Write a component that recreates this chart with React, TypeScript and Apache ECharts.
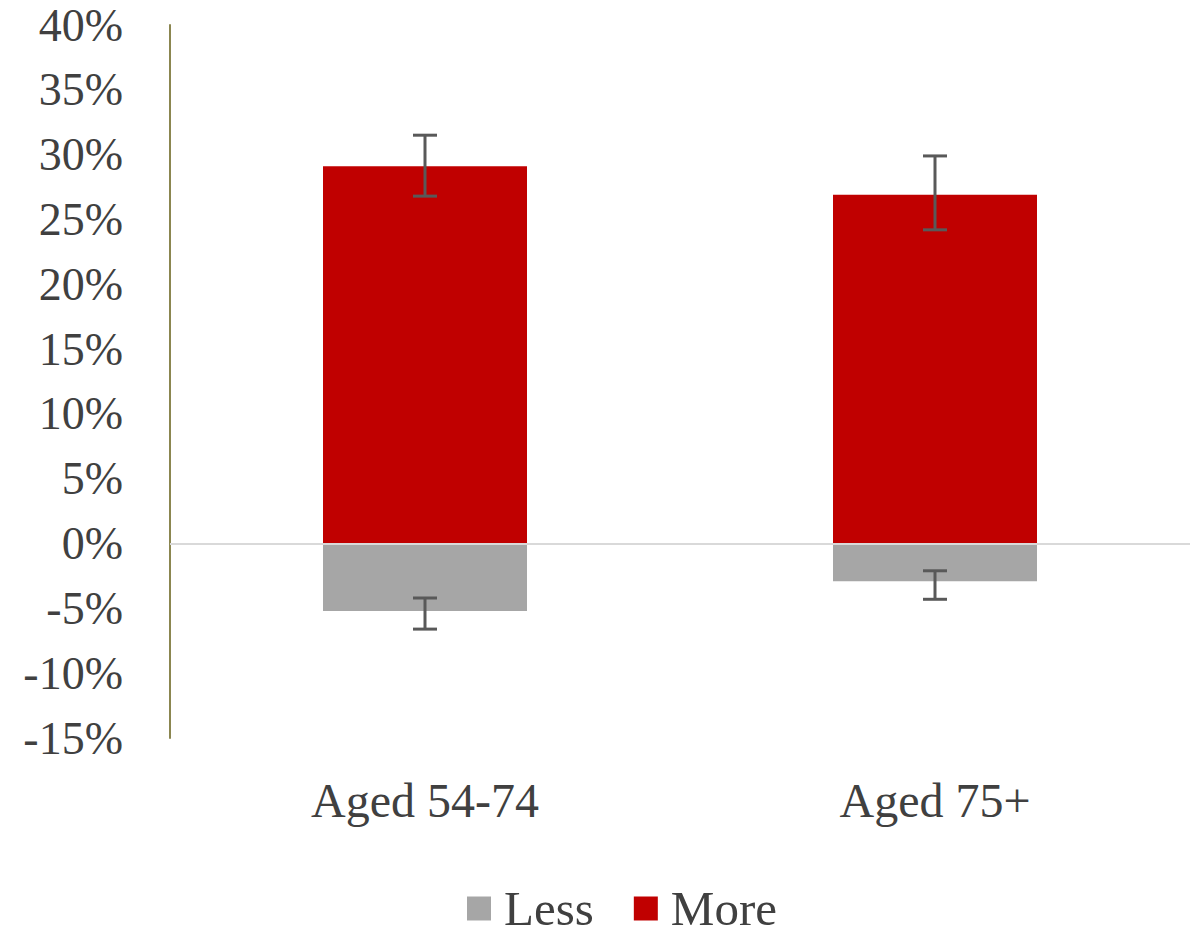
import React, { useEffect, useRef } from "react";
import * as echarts from "echarts";

const categories = ["Aged 54-74", "Aged 75+"];
const lessValues = [-5.2, -2.9];
const moreValues = [29.1, 26.9];
const lessErrLow = [-6.6, -4.3];
const lessErrHigh = [-4.2, -2.1];
const moreErrLow = [26.8, 24.2];
const moreErrHigh = [31.5, 29.9];
const yTicks = [-15, 40, 5];

const FONT = "'Liberation Serif', 'Times New Roman', serif";
const TEXT = "#404040";

export default function App() {
  const ref = useRef<HTMLDivElement>(null);
  useEffect(() => {
    if (!ref.current) return;
    const chart = echarts.init(ref.current, undefined, { renderer: "svg" });
    const errData: number[][] = [];
    categories.forEach((_, i) => {
      errData.push([i, lessErrLow[i], lessErrHigh[i]]);
      errData.push([i, moreErrLow[i], moreErrHigh[i]]);
    });
    chart.setOption({
      animation: false,
      backgroundColor: "#ffffff",
      grid: { left: 170, right: 10, top: 25, bottom: 207, containLabel: false },
      legend: {
        data: ["Less", "More"],
        left: 462,
        top: 879,
        icon: "rect",
        itemWidth: 24,
        itemHeight: 24,
        itemGap: 40,
        textStyle: { fontFamily: FONT, fontSize: 49, color: TEXT, padding: [0, 0, 0, 8] },
      },
      xAxis: {
        type: "category",
        data: categories,
        axisLine: { show: false, onZero: false },
        axisTick: { show: false },
        axisLabel: { fontFamily: FONT, fontSize: 48, color: TEXT, margin: 38 },
      },
      yAxis: {
        type: "value",
        min: yTicks[0],
        max: yTicks[1],
        interval: yTicks[2],
        axisLine: { show: true, lineStyle: { color: "#8b8650", width: 2 } },
        axisTick: { show: false },
        splitLine: { show: false },
        axisLabel: {
          fontFamily: FONT,
          fontSize: 46,
          lineHeight: 44,
          color: TEXT,
          margin: 47,
          formatter: (v: number) => `${v}%`,
        },
      },
      series: [
        {
          name: "Less",
          type: "bar",
          data: lessValues,
          barWidth: 204,
          barGap: "-100%",
          itemStyle: { color: "#a6a6a6" },
          markLine: {
            silent: true,
            symbol: "none",
            label: { show: false },
            lineStyle: { color: "#d9d9d9", width: 2, type: "solid" },
            data: [{ yAxis: 0 }],
          },
        },
        {
          name: "More",
          type: "bar",
          data: moreValues,
          barWidth: 204,
          itemStyle: { color: "#c00000" },
        },
        {
          name: "err",
          type: "custom",
          data: errData,
          z: 10,
          renderItem: (params: any, api: any) => {
            const x = api.value(0);
            const lo = api.coord([x, api.value(1)]);
            const hi = api.coord([x, api.value(2)]);
            const hw = 12;
            const style = { stroke: "#595959", lineWidth: 3 };
            return {
              type: "group",
              children: [
                { type: "line", shape: { x1: lo[0], y1: lo[1], x2: hi[0], y2: hi[1] }, style },
                { type: "line", shape: { x1: lo[0] - hw, y1: lo[1], x2: lo[0] + hw, y2: lo[1] }, style },
                { type: "line", shape: { x1: hi[0] - hw, y1: hi[1], x2: hi[0] + hw, y2: hi[1] }, style },
              ],
            };
          },
        },
      ],
    });
    return () => chart.dispose();
  }, []);
  return (
    <div
      ref={ref}
      style={{ position: "absolute", left: 0, top: 0, width: 1200, height: 945 }}
    />
  );
}
